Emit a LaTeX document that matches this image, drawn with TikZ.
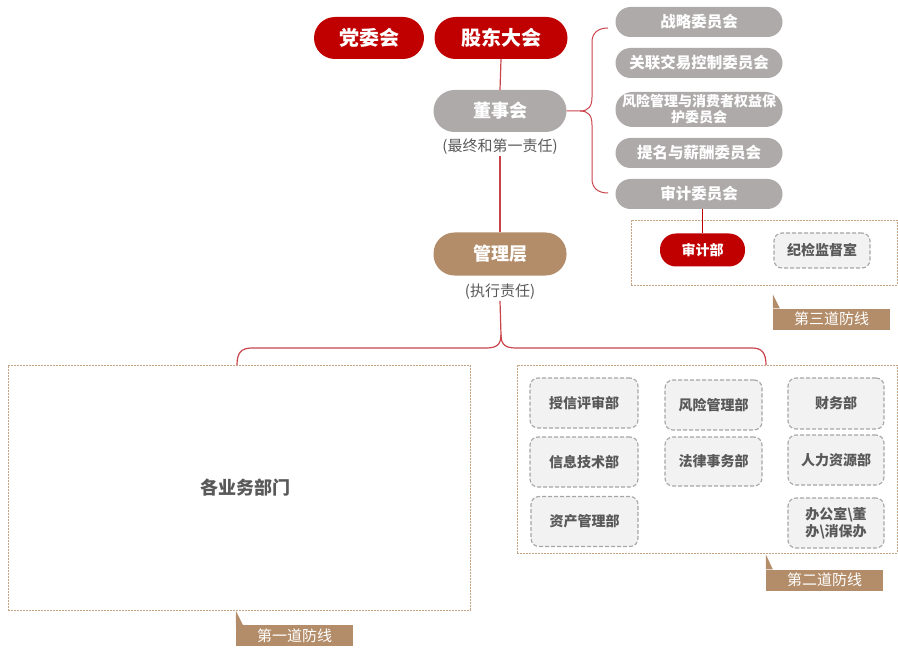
\documentclass[tikz,border=0pt]{standalone}
\usepackage{fontspec}
\setmainfont{Noto Sans CJK SC}
\definecolor{cred}{HTML}{C00000}
\definecolor{cgray}{HTML}{AEAAAA}
\definecolor{cbrown}{HTML}{B38D69}
\definecolor{cline}{HTML}{C9434B}
\definecolor{cbox}{HTML}{C4A484}
\definecolor{cdept}{HTML}{A6A6A6}
\definecolor{cdeptfill}{HTML}{F2F2F2}
\definecolor{ctext}{HTML}{595959}
\begin{document}
\begin{tikzpicture}[x=1pt,y=-1pt,
  bigpill/.style={rectangle, rounded corners=21pt, inner sep=0pt, minimum width=133, minimum height=42, text=white, font=\bfseries\fontsize{18}{20}\selectfont},
  cpill/.style={rectangle, rounded corners=15pt, inner sep=0pt, minimum width=167, minimum height=30, fill=cgray, text=white, font=\bfseries\fontsize{15.5}{17}\selectfont, align=center},
  subtxt/.style={text=ctext, font=\fontsize{15}{17}\selectfont, inner sep=1pt},
  linebox/.style={draw=cbox, line width=0.9pt, dash pattern=on 2pt off 1pt, inner sep=0pt},
  deptbox/.style={draw=cdept, fill=cdeptfill, line width=1.1pt, dash pattern=on 4pt off 2pt, rounded corners=8pt, inner sep=0pt, text=ctext, font=\bfseries\fontsize{14}{17}\selectfont, align=center},
  tagbox/.style={fill=cbrown, inner sep=0pt, minimum width=117, minimum height=21, text=white, font=\fontsize{15}{17}\selectfont},
  conn/.style={draw=cline, line width=1.2pt},
]
\useasboundingbox (0,0) rectangle (898,650);

% top nodes
\node[bigpill, fill=cred, minimum width=110, font=\bfseries\fontsize{20}{22}\selectfont] (party) at (369,38) {党委会};
\node[bigpill, fill=cred, font=\bfseries\fontsize{20}{22}\selectfont] (gm) at (501,38) {股东大会};
\node[bigpill, fill=cgray] (board) at (500,111) {董事会};
\node[subtxt] (boardsub) at (500,147) {(最终和第一责任)};
\node[bigpill, fill=cbrown, minimum height=43] (mgmt) at (500,254) {管理层};
\node[subtxt] (mgmtsub) at (500,292) {(执行责任)};

% committees
\node[cpill] (c1) at (699,22) {战略委员会};
\node[cpill] (c2) at (699,63) {关联交易控制委员会};
\node[cpill, minimum height=35, rounded corners=17pt, font=\bfseries\fontsize{14}{16}\selectfont] (c3) at (699,109.5) {风险管理与消费者权益保\\护委员会};
\node[cpill] (c4) at (699,153) {提名与薪酬委员会};
\node[cpill] (c5) at (699,194) {审计委员会};

% third line
\node[linebox, minimum width=266, minimum height=65] (box3) at (764,252.5) {};
\node[rectangle, rounded corners=16pt, fill=cred, minimum width=85, minimum height=33, inner sep=0pt, text=white, font=\bfseries\fontsize{14}{16}\selectfont] (audit) at (702.5,250) {审计部};
\node[deptbox, minimum width=96, minimum height=35] (disc) at (822,250.5) {纪检监督室};
\node[tagbox] (tag3) at (831.5,319) {第三道防线};
\fill[cbrown] (tag3.north west) -- ++(0,-14) -- ([xshift=7pt]tag3.north west) -- cycle;

% first line
\node[linebox, minimum width=462, minimum height=245, text=ctext, font=\bfseries\fontsize{18}{20}\selectfont] (box1) at (239,487.5) {\hspace{12pt}各业务部门};
\node[tagbox] (tag1) at (294.5,635.5) {第一道防线};
\fill[cbrown] (tag1.north west) -- ++(0,-14) -- ([xshift=7pt]tag1.north west) -- cycle;

% second line
\node[linebox, minimum width=380, minimum height=188] (box2) at (707,459) {};
\node[deptbox, minimum width=108, minimum height=50] (d1) at (584,403) {授信评审部};
\node[deptbox, minimum width=97, minimum height=50] (d2) at (713.5,405) {风险管理部};
\node[deptbox, minimum width=96, minimum height=51] (d3) at (836,403.5) {财务部};
\node[deptbox, minimum width=108, minimum height=50] (d4) at (584,462) {信息技术部};
\node[deptbox, minimum width=97, minimum height=49] (d5) at (713.5,461.5) {法律事务部};
\node[deptbox, minimum width=96, minimum height=50] (d6) at (836,460) {人力资源部};
\node[deptbox, minimum width=107, minimum height=50] (d7) at (584.5,521.5) {资产管理部};
\node[deptbox, minimum width=96, minimum height=50] (d8) at (836,523) {办公室\textbackslash 董\\办\textbackslash 消保办};
\node[tagbox] (tag2) at (824.5,580) {第二道防线};
\fill[cbrown] (tag2.north west) -- ++(0,-15) -- ([xshift=7pt]tag2.north west) -- cycle;

% connectors
\draw[conn] (gm.south) -- (board.north);
\draw[conn] (boardsub.south) -- (mgmt.north);
\draw[conn, draw=cred] (audit.north |- c5.south) -- (audit.north);

\coordinate (bt) at (608,28);
\coordinate (bb) at (608,193);
\draw[conn, line width=1pt] (board.east) -- (580,111) .. controls (589,111) and (592,106) .. (592,97) -- (592,42) .. controls (592,33) and (598,28) .. (bt);
\draw[conn, line width=1pt] (580,111) .. controls (589,111) and (592,116) .. (592,125) -- (592,179) .. controls (592,188) and (598,193) .. (bb);

\coordinate (bl) at (237,365);
\coordinate (br) at (766,365);
\coordinate (bj) at (501,335);
\draw[conn] (mgmtsub.south) -- (bj) .. controls (501,345) and (496,348) .. (486,348) -- (252,348) .. controls (241,348) and (237,353) .. (bl);
\draw[conn] (bj) .. controls (501,345) and (506,348) .. (516,348) -- (752,348) .. controls (762,348) and (766,353) .. (br);
\end{tikzpicture}
\end{document}
